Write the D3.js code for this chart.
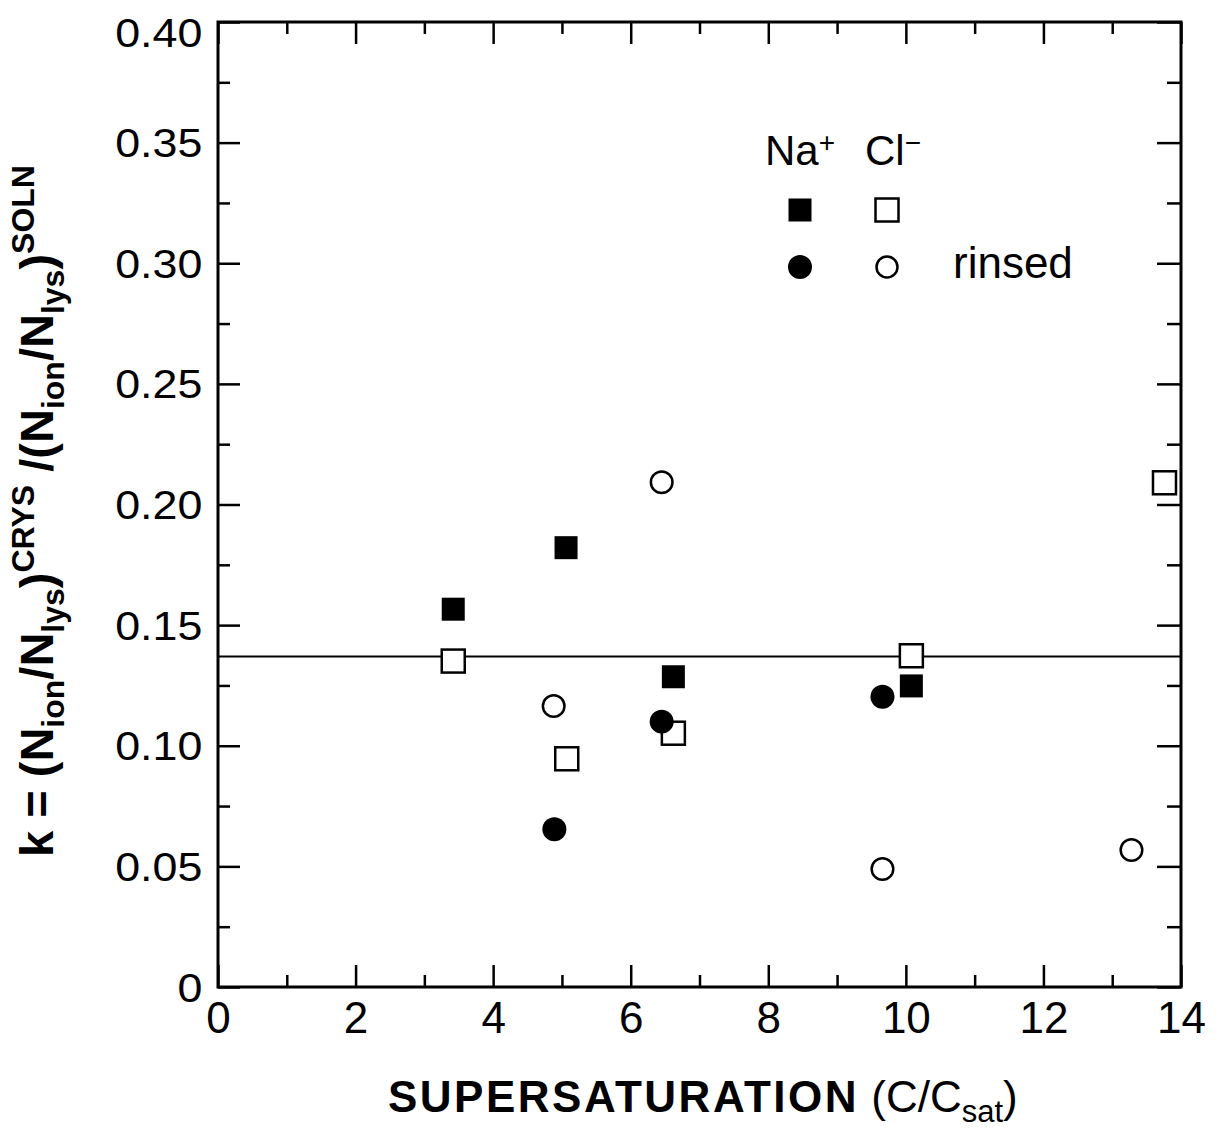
<!DOCTYPE html>
<html>
<head>
<meta charset="utf-8">
<script src="https://cdn.jsdelivr.net/npm/d3@7"></script>
<style>
  body { margin: 0; background: #fff; }
  text { font-family: "Liberation Sans", Arial, Helvetica, sans-serif; fill: #000; }
</style>
</head>
<body>
<div id="chart"></div>
<script>
// Na+ (filled) / Cl- (open) partition coefficients vs supersaturation
const naX = [3.42, 5.06, 6.62, 10.08];
const naY = [0.1566, 0.1821, 0.1286, 0.1248];
const clX = [3.42, 5.07, 6.62, 10.08, 13.76];
const clY = [0.1351, 0.0946, 0.1052, 0.1373, 0.2090];
const naRinsedX = [4.89, 6.45, 9.66];
const naRinsedY = [0.0654, 0.1100, 0.1203];
const clRinsedX = [4.88, 6.45, 9.66, 13.28];
const clRinsedY = [0.1165, 0.2092, 0.0489, 0.0568];
const meanK = 0.137;

const xTicks = [0, 2, 4, 6, 8, 10, 12, 14];
const xMinor = [1, 3, 5, 7, 9, 11, 13];
const yTicks = [0, 0.05, 0.1, 0.15, 0.2, 0.25, 0.3, 0.35, 0.4];
const yMinor = [0.025, 0.075, 0.125, 0.175, 0.225, 0.275, 0.325, 0.375];
const yTickLabels = ["0", "0.05", "0.10", "0.15", "0.20", "0.25", "0.30", "0.35", "0.40"];

(function () {
  const margin = { top: 22, right: 37, bottom: 142, left: 218 };
  const W = 1218, H = 1129;
  const width = W - margin.left - margin.right;
  const height = H - margin.top - margin.bottom;

  const svg = d3.select("#chart").append("svg")
    .attr("width", W).attr("height", H);
  const g = svg.append("g")
    .attr("transform", `translate(${margin.left},${margin.top})`);

  const x = d3.scaleLinear().domain([0, 14]).range([0, width]);
  const y = d3.scaleLinear().domain([0, 0.4]).range([height, 0]);

  function styleAxis(sel) {
    sel.selectAll(".domain").remove();
    sel.selectAll(".tick line").attr("stroke", "#000").attr("stroke-width", 2.5);
    sel.selectAll(".tick text").attr("fill", "#000")
      .attr("font-family", "Liberation Sans, Arial, sans-serif");
  }

  // bottom
  g.append("g").attr("transform", `translate(0,${height})`)
    .call(d3.axisBottom(x).tickValues(xTicks).tickSizeInner(-22).tickSizeOuter(0).tickPadding(15))
    .call(styleAxis)
    .selectAll(".tick text").attr("font-size", 44);
  g.append("g").attr("transform", `translate(0,${height})`)
    .call(d3.axisBottom(x).tickValues(xMinor).tickSizeInner(-12).tickSizeOuter(0).tickFormat(""))
    .call(styleAxis);
  // top
  g.append("g")
    .call(d3.axisTop(x).tickValues(xTicks).tickSizeInner(-22).tickSizeOuter(0).tickFormat(""))
    .call(styleAxis);
  g.append("g")
    .call(d3.axisTop(x).tickValues(xMinor).tickSizeInner(-12).tickSizeOuter(0).tickFormat(""))
    .call(styleAxis);
  // left
  g.append("g")
    .call(d3.axisLeft(y).tickValues(yTicks).tickSizeInner(-22).tickSizeOuter(0).tickPadding(14)
      .tickFormat((d, i) => yTickLabels[i]))
    .call(styleAxis)
    .selectAll(".tick text").attr("font-size", 40)
    .attr("transform", "scale(1.12,1)")
    .attr("dy", (d) => d === 0.4 ? "0.62em" : "0.35em");
  g.append("g")
    .call(d3.axisLeft(y).tickValues(yMinor).tickSizeInner(-12).tickSizeOuter(0).tickFormat(""))
    .call(styleAxis);
  // right
  g.append("g").attr("transform", `translate(${width},0)`)
    .call(d3.axisRight(y).tickValues(yTicks).tickSizeInner(-24).tickSizeOuter(0).tickFormat(""))
    .call(styleAxis);
  g.append("g").attr("transform", `translate(${width},0)`)
    .call(d3.axisRight(y).tickValues(yMinor).tickSizeInner(-14).tickSizeOuter(0).tickFormat(""))
    .call(styleAxis);

  // frame
  g.append("rect")
    .attr("x", 0).attr("y", 0).attr("width", width).attr("height", height)
    .attr("fill", "none").attr("stroke", "#000").attr("stroke-width", 3);

  // mean line
  g.append("line")
    .attr("x1", x(0)).attr("x2", x(14))
    .attr("y1", y(meanK)).attr("y2", y(meanK))
    .attr("stroke", "#000").attr("stroke-width", 2);

  const sq = 23, r = 12;

  function squares(xs, ys, filled) {
    g.append("g").selectAll("rect")
      .data(xs.map((v, i) => [v, ys[i]]))
      .join("rect")
      .attr("x", (d) => x(d[0]) - sq / 2)
      .attr("y", (d) => y(d[1]) - sq / 2)
      .attr("width", sq).attr("height", sq)
      .attr("fill", filled ? "#000" : "#fff")
      .attr("stroke", "#000").attr("stroke-width", filled ? 0 : 2.5);
  }
  function circles(xs, ys, filled) {
    g.append("g").selectAll("circle")
      .data(xs.map((v, i) => [v, ys[i]]))
      .join("circle")
      .attr("cx", (d) => x(d[0]))
      .attr("cy", (d) => y(d[1]))
      .attr("r", filled ? r : r - 1.2)
      .attr("fill", filled ? "#000" : "#fff")
      .attr("stroke", "#000").attr("stroke-width", filled ? 0 : 2.5);
  }

  squares(clX, clY, false);
  squares(naX, naY, true);
  circles(clRinsedX, clRinsedY, false);
  circles(naRinsedX, naRinsedY, true);

  // legend
  const leg = svg.append("g").attr("transform", "translate(765,165)");
  const h1 = leg.append("text").attr("font-size", 42);
  h1.append("tspan").text("Na");
  h1.append("tspan").attr("font-size", 28).attr("dy", -13).text("+");
  const h2 = leg.append("text").attr("x", 100).attr("font-size", 42);
  h2.append("tspan").text("Cl");
  h2.append("tspan").attr("font-size", 28).attr("dy", -13).text("\u2212");
  leg.append("rect").attr("x", 35 - sq / 2).attr("y", 45 - sq / 2).attr("width", sq).attr("height", sq)
    .attr("fill", "#000");
  leg.append("rect").attr("x", 122 - sq / 2).attr("y", 45 - sq / 2).attr("width", sq).attr("height", sq)
    .attr("fill", "#fff").attr("stroke", "#000").attr("stroke-width", 2.5);
  leg.append("circle").attr("cx", 35).attr("cy", 102).attr("r", r).attr("fill", "#000");
  leg.append("circle").attr("cx", 122).attr("cy", 102).attr("r", r - 1.5)
    .attr("fill", "#fff").attr("stroke", "#000").attr("stroke-width", 2.5);
  leg.append("text").attr("x", 188).attr("y", 113).attr("font-size", 44).text("rinsed");

  // x title
  const xt = svg.append("text").attr("x", 388).attr("y", 1112).attr("font-size", 44);
  xt.append("tspan").attr("font-weight", "bold").attr("letter-spacing", 2.5).text("SUPERSATURATION");
  xt.append("tspan").text(" (C/C");
  xt.append("tspan").attr("font-size", 31).attr("dy", 10).text("sat");
  xt.append("tspan").attr("dy", -10).text(")");

  // y title
  const yt = svg.append("text")
    .attr("transform", "translate(53,511) rotate(-90)")
    .attr("text-anchor", "middle")
    .attr("font-size", 47).attr("font-weight", "bold");
  const parts = [
    ["k = (N", 0], ["ion", 1], ["/N", 0], ["lys", 1], [")", 0], ["CRYS", 2],
    [" /(N", 0], ["ion", 1], ["/N", 0], ["lys", 1], [")", 0], ["SOLN", 2]
  ];
  let level = 0;
  parts.forEach(([t, kind]) => {
    const target = kind === 1 ? 11 : kind === 2 ? -19 : 0;
    yt.append("tspan")
      .attr("dy", target - level)
      .attr("font-size", kind === 0 ? 47 : 32)
      .text(t);
    level = target;
  });
})();
</script>
</body>
</html>
